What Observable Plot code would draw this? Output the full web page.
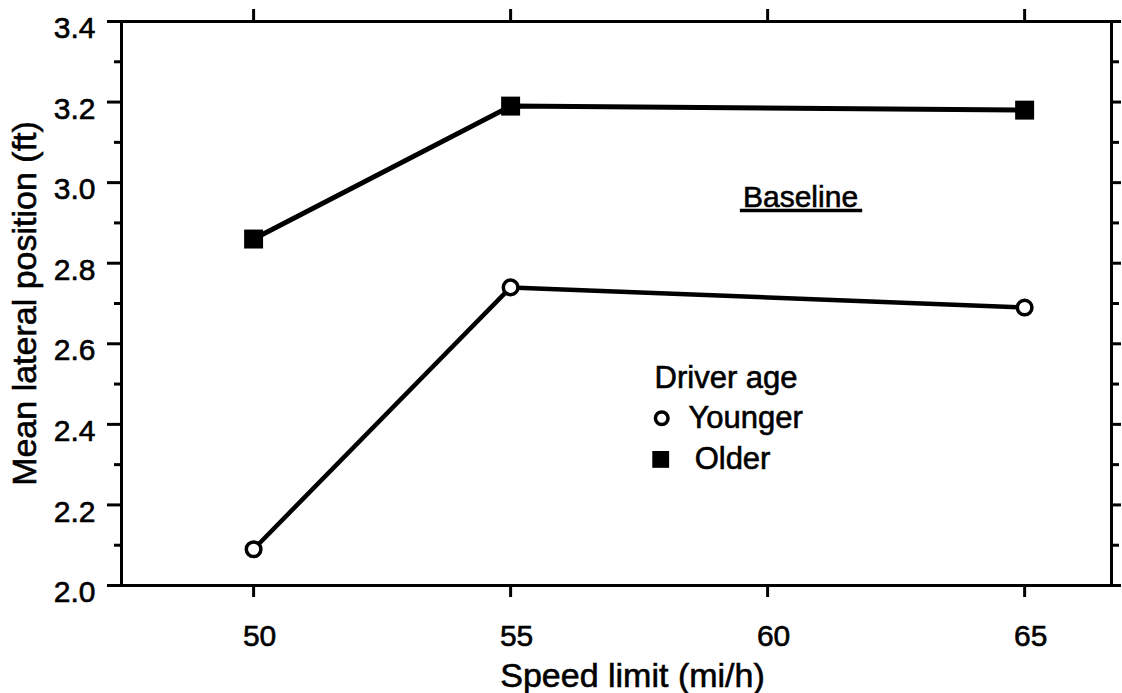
<!DOCTYPE html>
<html>
<head>
<meta charset="utf-8">
<script src="https://cdn.jsdelivr.net/npm/d3@7"></script>
<script src="https://cdn.jsdelivr.net/npm/@observablehq/plot@0.6"></script>
<style>
  html, body { margin: 0; padding: 0; background: #fff; }
  #chart svg { display: block; }
  /* heavier lettering, like the printed original */
  #chart svg text { stroke: #000; stroke-width: 0.6px; }
</style>
</head>
<body>
<div id="chart"></div>
<script>
// Speed limits (mi/h) at which lateral position was measured
const speeds = [50, 55, 65];
// Mean lateral position (ft) by driver age group
const younger = [2.09, 2.74, 2.69];
const older = [2.86, 3.19, 3.18];

// Axis ticks and labels
const xTicks = [50, 55, 60, 65];
const yMajor = [2.0, 2.2, 2.4, 2.6, 2.8, 3.0, 3.2, 3.4];
const yMinor = [2.1, 2.3, 2.5, 2.7, 2.9, 3.1, 3.3];
const xLabel = "Speed limit (mi/h)";
const yLabel = "Mean lateral position (ft)";
const legendTitle = "Driver age";
const groups = ["Younger", "Older"];
const condition = "Baseline";

const youngerRows = speeds.map((s, i) => ({speed: s, pos: younger[i]}));
const olderRows = speeds.map((s, i) => ({speed: s, pos: older[i]}));

const font = "'Liberation Sans', Arial, Helvetica, sans-serif";
const none = () => "";

const chart = Plot.plot({
  width: 1122,
  height: 693,
  marginLeft: 121,
  marginRight: 11,
  marginTop: 21,
  marginBottom: 108,
  x: {domain: [47.43, 66.69]},
  y: {domain: [2.0, 3.4]},
  style: {fontFamily: font, fontSize: "30px", color: "#000", background: "#fff"},
  marks: [
    // tick marks on all four sides
    Plot.axisX(xTicks, {anchor: "bottom", tickSize: 12, strokeWidth: 3, tickFormat: none, label: null}),
    Plot.axisX(xTicks, {anchor: "top", tickSize: 13, strokeWidth: 3, tickFormat: none, label: null}),
    Plot.axisY(yMajor, {anchor: "left", tickSize: 14, strokeWidth: 3, tickFormat: none, label: null}),
    Plot.axisY(yMinor, {anchor: "left", tickSize: 7, strokeWidth: 3, tickFormat: none, label: null}),
    Plot.axisY(yMajor, {anchor: "right", tickSize: 9, strokeWidth: 3, tickFormat: none, label: null}),
    Plot.axisY(yMinor, {anchor: "right", tickSize: 7, strokeWidth: 3, tickFormat: none, label: null}),
    // tick labels
    Plot.axisX(xTicks, {anchor: "bottom", tickSize: 0, tickPadding: 39, dx: 6, fontSize: 30, tickFormat: d => String(d), label: null}),
    Plot.axisY(yMajor, {anchor: "left", tickSize: 0, tickPadding: 26, dy: 7, fontSize: 30, tickFormat: d3.format(".1f"), label: null}),
    Plot.frame({stroke: "#000", strokeWidth: 3}),

    // series lines
    Plot.line(olderRows, {x: "speed", y: "pos", stroke: "#000", strokeWidth: 5}),
    Plot.line(youngerRows, {x: "speed", y: "pos", stroke: "#000", strokeWidth: 4.5}),
    // markers
    Plot.dot(olderRows, {x: "speed", y: "pos", symbol: "square", r: 10.7, fill: "#000", stroke: "none"}),
    Plot.dot(youngerRows, {x: "speed", y: "pos", symbol: "circle", r: 7.3, fill: "#fff", stroke: "#000", strokeWidth: 3.5}),

    // axis titles
    Plot.text([xLabel], {frameAnchor: "bottom", textAnchor: "middle", lineAnchor: "bottom", dx: 16, dy: 101, text: d => d, fontSize: 34}),
    Plot.text([yLabel], {frameAnchor: "left", textAnchor: "middle", lineAnchor: "middle", dx: -96, rotate: -90, text: d => d, fontSize: 34}),

    // condition label, underlined
    Plot.text([condition], {x: 60.64, y: 2.963, text: d => d, fontSize: 30}),
    Plot.ruleY([2.931], {x1: 59.47, x2: 61.85, stroke: "#000", strokeWidth: 3.5}),

    // legend
    Plot.text([legendTitle], {x: 57.80, y: 2.516, text: d => d, textAnchor: "start", fontSize: 31}),
    Plot.dot([groups[0]], {x: () => 57.94, y: () => 2.415, symbol: "circle", r: 6.3, fill: "#fff", stroke: "#000", strokeWidth: 3.5}),
    Plot.text([groups[0]], {x: 58.46, y: 2.415, text: d => d, textAnchor: "start", fontSize: 31}),
    Plot.dot([groups[1]], {x: () => 57.92, y: () => 2.313, symbol: "square", r: 9.5, fill: "#000", stroke: "none"}),
    Plot.text([groups[1]], {x: 58.58, y: 2.313, text: d => d, textAnchor: "start", fontSize: 31})
  ]
});

document.getElementById("chart").appendChild(chart);
</script>
</body>
</html>
